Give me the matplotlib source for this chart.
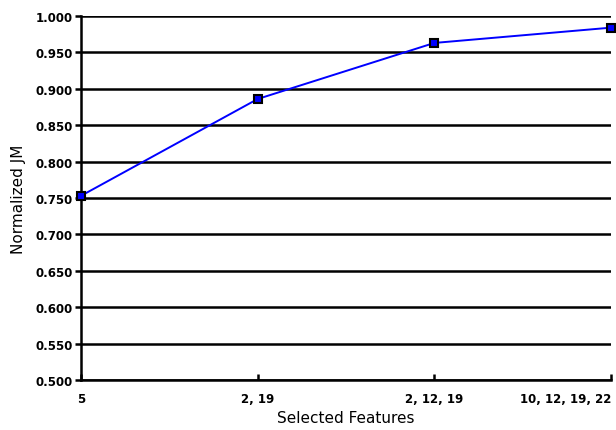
import matplotlib
matplotlib.use("Agg")
import matplotlib.pyplot as plt

categories = ["5", "2, 19", "2, 12, 19", "10, 12, 19, 22"]
values = [0.753, 0.886, 0.963, 0.984]
yticks = [0.500, 0.550, 0.600, 0.650, 0.700, 0.750, 0.800, 0.850, 0.900, 0.950, 1.000]

fig = plt.figure(figsize=(6.16, 4.31), dpi=100)
ax = fig.add_axes([81/616, 1-381/431, 530/616, 364/431])

x = list(range(len(categories)))
ax.plot(x, values, color="#0000ff", lw=1.4, zorder=3)
ax.plot(x, values, ls="none", marker="s", ms=6, mfc="#0000ff", mec="black", mew=1.5, zorder=4, clip_on=False)

ax.set_xlim(0, len(categories) - 1)
ax.set_ylim(0.5, 1.0)
ax.set_yticks(yticks)
ax.set_yticklabels([f"{v:.3f}" for v in yticks], fontsize=8.5, fontweight="bold")
ax.set_xticks(x)
ax.set_xticklabels(categories, fontsize=8.5, fontweight="bold")
ax.yaxis.grid(True, color="black", lw=1.8)
ax.set_axisbelow(True)
for s in ["top", "right"]:
    ax.spines[s].set_visible(False)
for s in ["left", "bottom"]:
    ax.spines[s].set_linewidth(1.8)
ax.tick_params(axis="y", direction="out", length=4, width=1.8, pad=2)
ax.tick_params(axis="x", direction="in", length=4, width=1.8, pad=9)
ax.get_xticklabels()[-1].set_horizontalalignment("right")
ax.set_xlabel("Selected Features", fontsize=11, labelpad=3)
ax.set_ylabel("Normalized JM", fontsize=11, labelpad=7)

fig.savefig("out.png", dpi=100)
